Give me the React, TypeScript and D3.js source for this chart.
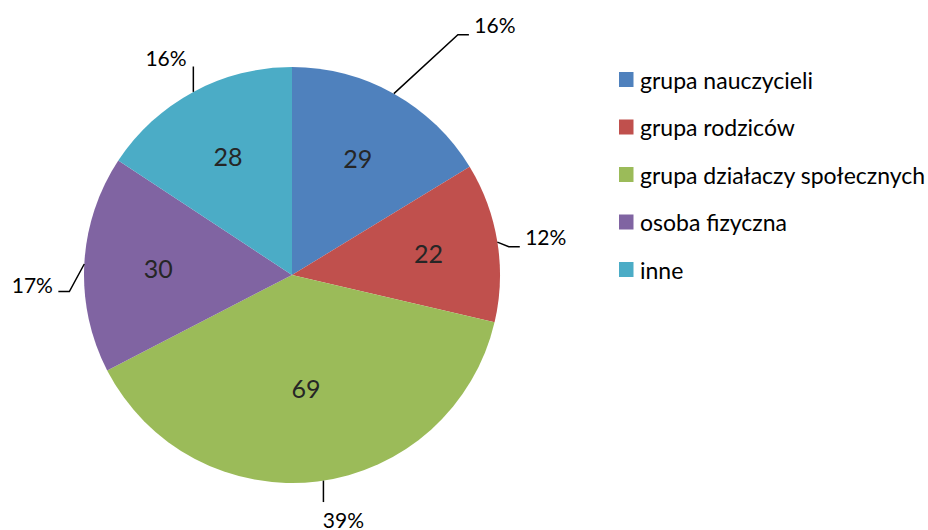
import React from "react";
import * as d3 from "d3";

const categories = [
  "grupa nauczycieli",
  "grupa rodziców",
  "grupa działaczy społecznych",
  "osoba fizyczna",
  "inne",
];
const values = [29, 22, 69, 30, 28];
const percentLabels = ["16%", "12%", "39%", "17%", "16%"];
const colors = ["#4F81BD", "#C0504D", "#9BBB59", "#8064A2", "#4BACC6"];

// layout (not data)
const W = 928;
const H = 530;
const CX = 292;
const CY = 275;
const R = 208;
const OUT_R = 255;
const labelNudge: [number, number][] = [
  [78, -28],
  [2, 2],
  [20, -9],
  [-5, 23],
  [-5, 7],
];
const leaderKind = ["right", "right", "down", "left", "up"];
const FONT = "Lato, 'Open Sans', sans-serif";

function polar(r: number, a: number): [number, number] {
  return [CX + r * Math.sin(a), CY - r * Math.cos(a)];
}

export default function App() {
  const pie = d3
    .pie<number>()
    .sort(null)
    .value((d) => d)
    .startAngle(0)
    .endAngle(2 * Math.PI);
  const arcs = pie(values);
  const total = d3.sum(values);
  const arcGen = d3.arc<d3.PieArcDatum<number>>().innerRadius(0).outerRadius(R);

  const legendY = d3
    .scalePoint<string>()
    .domain(categories)
    .range([79.5, 269.5]);

  return (
    <svg
      width={W}
      height={H}
      style={{ position: "absolute", left: 0, top: 0, background: "#fff" }}
      fontFamily={FONT}
    >
      <g transform={`translate(${CX},${CY})`}>
        {arcs.map((a, i) => (
          <path key={i} d={arcGen(a) || ""} fill={colors[i]} />
        ))}
      </g>
      {arcs.map((a, i) => {
        const mid = (a.startAngle + a.endAngle) / 2;
        const f = a.value / total;
        const [lx, ly] = polar(R * (0.72 - 0.45 * f), mid);
        return (
          <text
            key={"in" + i}
            x={lx}
            y={ly}
            textAnchor="middle"
            dominantBaseline="central"
            fontSize={25}
            fill="#262626"
          >
            {a.value}
          </text>
        );
      })}
      {arcs.map((a, i) => {
        const mid = (a.startAngle + a.endAngle) / 2;
        const [px, py] = polar(OUT_R, mid);
        const cx = px + labelNudge[i][0];
        const cy = py + labelNudge[i][1];
        const [sx, sy] = polar(R, mid);
        const half = 21;
        let pts: [number, number][] = [];
        const kind = leaderKind[i];
        if (kind === "right") {
          const ex = cx - half - 5;
          const ey = cy + 10;
          pts = [
            [sx, sy],
            [ex - 11, ey],
            [ex, ey],
          ];
        } else if (kind === "left") {
          const ex = cx + half + 5;
          const ey = cy + 7;
          pts = [
            [sx, sy],
            [ex + 11, ey],
            [ex, ey],
          ];
        } else if (kind === "up") {
          pts = [
            [sx, sy],
            [sx, cy + 9],
          ];
        } else {
          const x = cx - half + 1;
          const dx = x - CX;
          const yArc = CY + Math.sqrt(R * R - dx * dx);
          pts = [
            [x, yArc],
            [x, cy - 17],
          ];
        }
        return (
          <g key={"out" + i}>
            <path
              d={d3.line()(pts) || ""}
              fill="none"
              stroke="#000"
              strokeWidth={1.5}
            />
            <text
              x={cx}
              y={cy}
              textAnchor="middle"
              dominantBaseline="central"
              fontSize={21}
              fill="#000"
            >
              {percentLabels[i]}
            </text>
          </g>
        );
      })}
      {categories.map((c, i) => {
        const y = legendY(c) as number;
        return (
          <g key={"lg" + i}>
            <rect x={619} y={y - 7.5} width={14.5} height={15} fill={colors[i]} />
            <text
              x={640}
              y={y}
              dominantBaseline="central"
              fontSize={23}
              fill="#000"
            >
              {c}
            </text>
          </g>
        );
      })}
    </svg>
  );
}
